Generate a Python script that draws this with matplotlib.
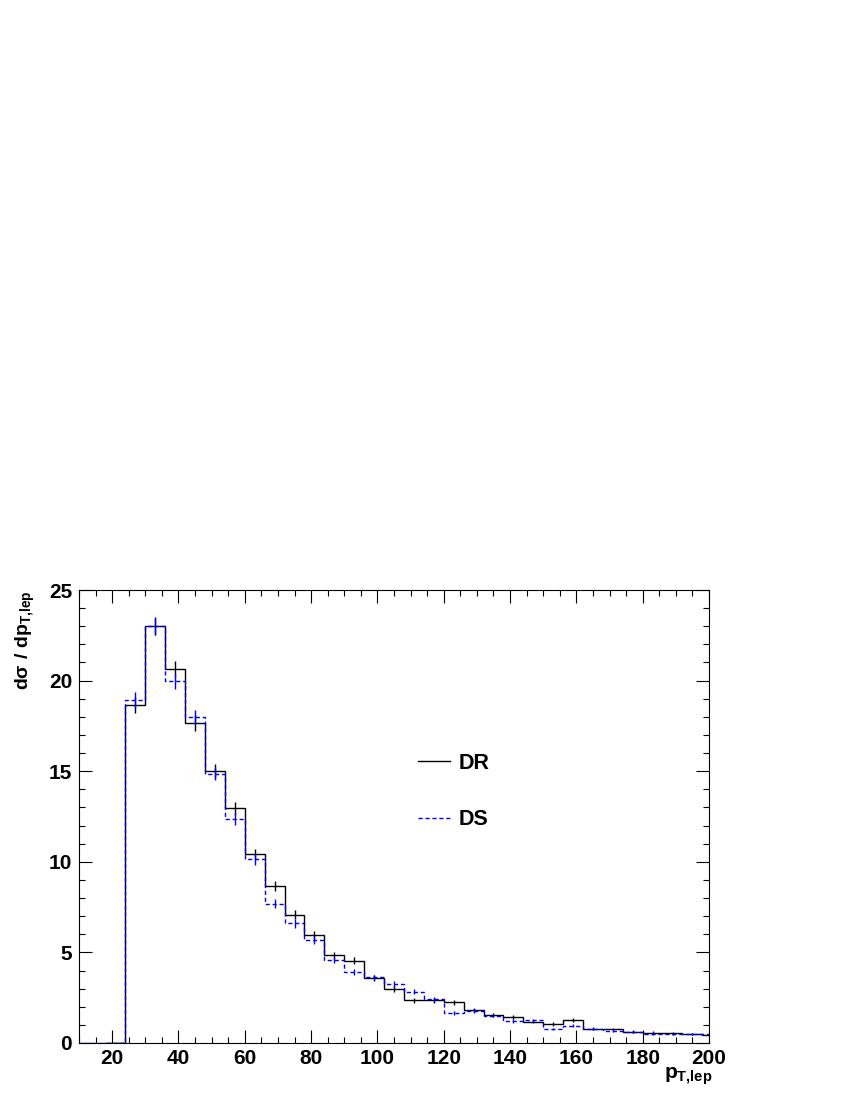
import numpy as np
import matplotlib
matplotlib.use("Agg")
import matplotlib.pyplot as plt
from matplotlib.ticker import MultipleLocator

plt.rcParams['font.family'] = ['Liberation Sans', 'DejaVu Sans']
plt.rcParams['font.weight'] = 'bold'
plt.rcParams['mathtext.fontset'] = 'custom'
plt.rcParams['mathtext.rm'] = 'Liberation Sans:bold'
plt.rcParams['mathtext.bf'] = 'Liberation Sans:bold'
plt.rcParams['mathtext.it'] = 'Liberation Sans:bold'

# bin edges (width 6 GeV), histogram starts at 24
bin_edges = np.arange(18, 205, 6)  # 18..204
dr_values = [0.0,
             18.65, 23.0, 20.64, 17.68, 15.01, 12.95, 10.41, 8.68, 7.08, 5.94,
             4.84, 4.54, 3.57, 2.98, 2.37, 2.37, 2.26, 1.82, 1.53, 1.45,
             1.18, 1.05, 1.27, 0.79, 0.77, 0.63, 0.57, 0.53, 0.48, 0.45]
ds_values = [0.0,
             18.93, 23.0, 19.96, 17.99, 14.85, 12.36, 10.14, 7.69, 6.60, 5.68,
             4.58, 3.92, 3.62, 3.26, 2.83, 2.41, 1.64, 1.77, 1.51, 1.23,
             1.25, 0.77, 0.96, 0.77, 0.68, 0.59, 0.52, 0.50, 0.50, 0.47]
dr_errors = [0.0,
             0.46, 0.50, 0.44, 0.44, 0.40, 0.36, 0.32, 0.28, 0.25, 0.22,
             0.20, 0.19, 0.17, 0.16, 0.14, 0.14, 0.14, 0.12, 0.11, 0.11,
             0.10, 0.09, 0.10, 0.08, 0.08, 0.07, 0.07, 0.07, 0.06, 0.06]
ds_errors = [0.0,
             0.42, 0.46, 0.40, 0.40, 0.36, 0.33, 0.29, 0.25, 0.23, 0.20,
             0.18, 0.17, 0.16, 0.15, 0.13, 0.13, 0.12, 0.11, 0.10, 0.10,
             0.09, 0.08, 0.09, 0.07, 0.07, 0.06, 0.06, 0.06, 0.06, 0.05]

edges = np.asarray(bin_edges, dtype=float)
centers = 0.5 * (edges[:-1] + edges[1:])
dr = np.asarray(dr_values)
ds = np.asarray(ds_values)
mask = dr > 0

fig = plt.figure(figsize=(8.5, 11), dpi=100)
ax = fig.add_axes([79/850, 1 - 1043/1100, (709-79)/850, (1043-590)/1100])

ax.stairs(dr, edges, baseline=None, color='black', lw=1.0, label='DR')
ax.errorbar(centers[mask], dr[mask], yerr=np.asarray(dr_errors)[mask], fmt='none',
            ecolor='black', elinewidth=1.0, capsize=0)
ax.stairs(ds, edges, baseline=None, color='#0000ff', lw=1.0, ls=(0, (3, 2)), label='DS')
ax.errorbar(centers[mask], ds[mask], yerr=np.asarray(ds_errors)[mask], fmt='none',
            ecolor='#0000ff', elinewidth=1.0, capsize=0)
# zero line below first filled bin
ax.plot([10, 24], [0, 0], color='#0000ff', lw=1.0)

ax.set_xlim(10, 200)
ax.set_ylim(0, 25)
ax.xaxis.set_major_locator(MultipleLocator(20))
ax.xaxis.set_minor_locator(MultipleLocator(5))
ax.yaxis.set_major_locator(MultipleLocator(5))
ax.yaxis.set_minor_locator(MultipleLocator(1))
ax.tick_params(which='both', direction='in', top=True, right=True, width=0.8)
ax.tick_params(which='major', length=9.5, labelsize=15)
ax.tick_params(axis='x', which='major', pad=4)
ax.tick_params(axis='y', which='major', pad=5)
ax.tick_params(which='minor', length=4.5)
for lab in ax.get_xticklabels() + ax.get_yticklabels():
    lab.set_fontweight('bold')
for sp in ax.spines.values():
    sp.set_linewidth(0.8)

ax.text(-0.085, 1.0, r'$\mathrm{d\sigma\ /\ dp_{T{,}lep}}$', transform=ax.transAxes,
        rotation=90, ha='center', va='top', fontsize=14)
ax.text(1.006, -0.05, r'$\mathrm{p_{T{,}lep}}$', transform=ax.transAxes,
        ha='right', va='top', fontsize=15)

ax.legend(loc='upper left', bbox_to_anchor=(0.507, 0.683), frameon=False,
          prop={'size': 15.5, 'weight': 'bold'}, handlelength=1.5,
          handletextpad=0.4, labelspacing=1.65)

fig.savefig('out.png', dpi=100)
